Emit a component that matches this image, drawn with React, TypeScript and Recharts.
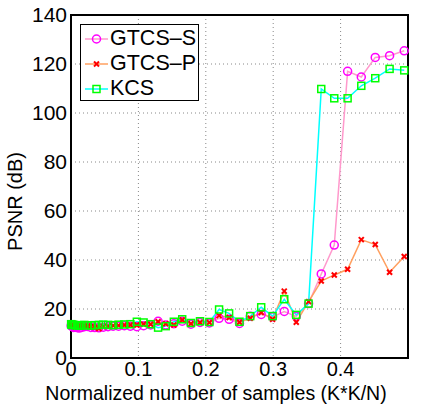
import React from "react";
import {
  LineChart,
  Line,
  XAxis,
  YAxis,
  CartesianGrid,
  ReferenceArea,
} from "recharts";

// x = K*K/N for K = 1..45 (N = 4096)
const samples = [
  0.0002, 0.001, 0.0022, 0.0039, 0.0061, 0.0088, 0.012, 0.0156, 0.0198, 0.0244,
  0.0295, 0.0352, 0.0413, 0.0479, 0.0549, 0.0625, 0.0706, 0.0791, 0.0881, 0.0977,
  0.1077, 0.1182, 0.1292, 0.1406, 0.1526, 0.165, 0.178, 0.1914, 0.2053, 0.2197,
  0.2346, 0.25, 0.2659, 0.2822, 0.2991, 0.3164, 0.3342, 0.3525, 0.3713, 0.3906,
  0.4104, 0.4307, 0.4514, 0.4727, 0.4944,
];

const gtcsS = [
  13.2, 13.0, 12.8, 12.5, 12.6, 12.4, 12.2, 12.5, 12.8, 12.9,
  12.5, 12.4, 12.3, 12.6, 12.8, 13.0, 13.0, 13.2, 13.0, 12.8,
  13.2, 13.5, 15.0, 13.5, 14.0, 15.0, 13.8, 14.5, 14.3, 16.2,
  15.8, 14.1, 17.0, 17.8, 16.8, 19.0, 17.0, 22.2, 34.3, 46.1,
  117.0, 114.7, 122.7, 123.4, 125.4,
];

const gtcsP = [
  13.0, 13.5, 13.2, 13.0, 12.8, 13.0, 13.2, 12.8, 13.0, 13.0,
  12.8, 12.5, 12.0, 12.8, 13.0, 13.2, 13.3, 13.5, 13.5, 13.5,
  13.8, 13.8, 14.8, 14.0, 13.5, 15.5, 14.0, 14.5, 14.5, 17.3,
  16.5, 14.6, 16.2, 18.6, 15.8, 27.3, 14.6, 23.0, 31.4, 33.9,
  36.2, 48.3, 46.3, 35.0, 41.4,
];

const kcs = [
  13.8, 13.5, 13.6, 13.5, 13.4, 13.3, 13.2, 13.4, 13.5, 13.3,
  13.3, 13.4, 13.5, 13.6, 13.5, 13.4, 13.6, 13.7, 13.8, 14.8,
  14.5, 13.8, 12.4, 13.0, 14.8, 15.8, 14.3, 15.0, 14.7, 19.8,
  18.2, 14.8, 17.1, 20.7, 17.1, 24.0, 17.6, 22.2, 109.8, 106.0,
  106.0, 111.1, 114.2, 118.0, 117.4,
];

const xTicks = [0, 0.1, 0.2, 0.3, 0.4];
const yTicks = [0, 20, 40, 60, 80, 100, 120, 140];

const data = samples.map((x, i) => ({
  x,
  s: gtcsS[i],
  p: gtcsP[i],
  k: kcs[i],
}));

const FONT = "'Liberation Sans', Arial, sans-serif";

const CircleDot = (props: any) => {
  const { cx, cy } = props;
  if (cx == null || cy == null) return null;
  return <circle cx={cx} cy={cy} r={4} fill="none" stroke="#ff00ff" strokeWidth={1.5} />;
};

const CrossDot = (props: any) => {
  const { cx, cy } = props;
  if (cx == null || cy == null) return null;
  const d = 2.5;
  return (
    <g stroke="#ff0000" strokeWidth={2}>
      <line x1={cx - d} y1={cy - d} x2={cx + d} y2={cy + d} />
      <line x1={cx - d} y1={cy + d} x2={cx + d} y2={cy - d} />
    </g>
  );
};

const SquareDot = (props: any) => {
  const { cx, cy } = props;
  if (cx == null || cy == null) return null;
  return (
    <rect x={cx - 3.5} y={cy - 3.5} width={7} height={7} fill="none" stroke="#00ff00" strokeWidth={1.5} />
  );
};

const legendItems = [
  { name: "GTCS\u2013S", color: "#ff99cc", Dot: CircleDot },
  { name: "GTCS\u2013P", color: "#ffa060", Dot: CrossDot },
  { name: "KCS", color: "#00ffff", Dot: SquareDot },
];

const LegendBox = () => (
  <div
    style={{
      position: "absolute",
      left: 80,
      top: 24,
      boxSizing: "border-box",
      border: "1.5px solid #000",
      background: "#fff",
      width: 119,
      height: 77,
      paddingTop: 1,
      fontFamily: FONT,
      fontSize: 21.5,
      lineHeight: "25px",
      color: "#000",
    }}
  >
    {legendItems.map(({ name, color, Dot }) => (
      <div key={name} style={{ display: "flex", alignItems: "center", height: 25 }}>
        <svg width={29} height={20} style={{ flex: "none" }}>
          <line x1={4} y1={10} x2={27} y2={10} stroke={color} strokeWidth={1.5} />
          <Dot cx={15.5} cy={10} />
        </svg>
        <span>{name}</span>
      </div>
    ))}
  </div>
);

export default function App() {
  return (
    <div style={{ position: "absolute", left: 0, top: 0, width: 431, height: 404, background: "#fff" }}>
      <LineChart width={431} height={404} data={data} margin={{ top: 15, right: 23, left: 0, bottom: 0 }}>
        <CartesianGrid stroke="#888" strokeDasharray="1 3" />
        <XAxis
          dataKey="x"
          type="number"
          domain={[0, 0.5]}
          ticks={xTicks}
          height={46}
          tickSize={0}
          tickMargin={4}
          axisLine={{ stroke: "#000", strokeWidth: 2 }}
          tick={{ fill: "#000", fontSize: 20, fontFamily: FONT }}
          label={(props: any) => {
            const vb = props.viewBox;
            return (
              <text
                x={216}
                y={vb.y + vb.height - 4.5}
                textAnchor="middle"
                fontSize={19.5}
                fontFamily={FONT}
                fill="#000"
              >
                Normalized number of samples (K*K/N)
              </text>
            );
          }}
        />
        <YAxis
          type="number"
          domain={[0, 140]}
          ticks={yTicks}
          width={71}
          tickSize={0}
          tickMargin={4}
          axisLine={{ stroke: "#000", strokeWidth: 2 }}
          tick={{ fill: "#000", fontSize: 21, fontFamily: FONT }}
          label={(props: any) => {
            const vb = props.viewBox;
            const cy = vb.y + vb.height / 2 + 15;
            return (
              <text
                x={22}
                y={cy}
                transform={`rotate(-90 22 ${cy})`}
                textAnchor="middle"
                fontSize={20}
                fontFamily={FONT}
                fill="#000"
              >
                PSNR (dB)
              </text>
            );
          }}
        />
        <ReferenceArea x1={0} x2={0.5} y1={0} y2={140} fill="none" stroke="#000" strokeWidth={2} ifOverflow="visible" />
        <Line dataKey="s" stroke="#ff99cc" strokeWidth={1.5} dot={<CircleDot />} isAnimationActive={false} />
        <Line dataKey="p" stroke="#ffa060" strokeWidth={1.5} dot={<CrossDot />} isAnimationActive={false} />
        <Line dataKey="k" stroke="#00ffff" strokeWidth={1.5} dot={<SquareDot />} isAnimationActive={false} />
      </LineChart>
      <LegendBox />
    </div>
  );
}
